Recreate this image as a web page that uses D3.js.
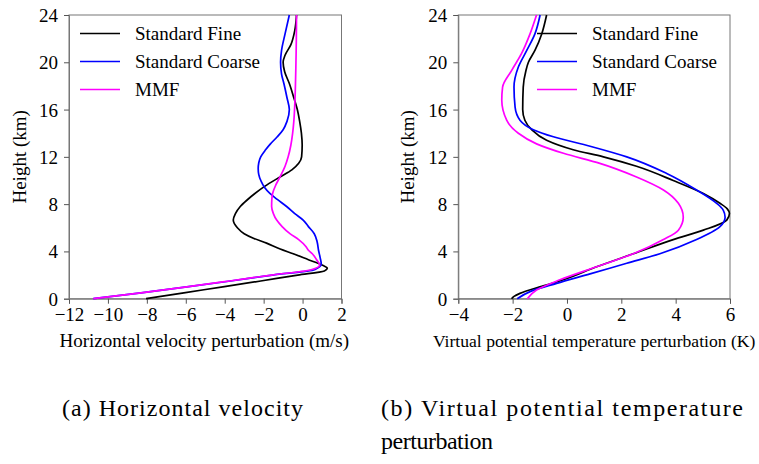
<!DOCTYPE html>
<html>
<head>
<meta charset="utf-8">
<script src="https://cdn.jsdelivr.net/npm/d3@7"></script>
<style>
  html, body { margin: 0; padding: 0; background: #fff; }
  svg { display: block; }
  text { font-family: "Liberation Serif", "Times New Roman", serif; fill: #000; }
</style>
</head>
<body>
<svg id="fig" width="759" height="464"></svg>
<script>
// Vertical profiles: [height (km), value]
const seriesNames = ["Standard Fine", "Standard Coarse", "MMF"];
const seriesColors = ["#000000", "#0000ff", "#ff00ff"];

// Horizontal velocity perturbation (m/s)
const uStandardFine = [
  [0, -8.04], [0.5, -6.1], [1.0, -4.1], [1.5, -2.15], [2.0, -0.25], [2.35, 1.12],
  [2.57, 1.27], [2.85, 1.0], [3.3, 0.3], [3.8, -0.48], [4.2, -1.15], [4.7, -1.85],
  [5.1, -2.5], [5.5, -3.0], [6.0, -3.35], [6.65, -3.56], [7.2, -3.45], [7.8, -3.2],
  [8.35, -2.85], [8.9, -2.45], [9.5, -1.95], [10.3, -1.16], [10.9, -0.55], [11.45, -0.2],
  [12.0, -0.05], [13, -0.02], [14, -0.06], [15, -0.15], [16, -0.27], [17, -0.45],
  [18.2, -0.68], [19.2, -0.92], [20, -1.0], [20.6, -0.9], [21.5, -0.6], [22.7, -0.4], [24, -0.31]
];
const uStandardCoarse = [
  [0, -10.75], [0.5, -8.3], [1.0, -5.95], [1.5, -3.7], [2.0, -1.55], [2.46, 0.62],
  [2.93, 0.96], [3.5, 0.9], [4.1, 0.82], [4.8, 0.75], [5.5, 0.6], [6.1, 0.3],
  [6.65, 0.03], [7.2, -0.4], [7.8, -0.82], [8.4, -1.3], [8.9, -1.68], [9.4, -1.95],
  [9.9, -2.12], [10.5, -2.25], [11, -2.28], [11.5, -2.25], [12, -2.15], [12.6, -1.9],
  [13.1, -1.65], [13.7, -1.3], [14.3, -1.0], [15, -0.8], [16, -0.68], [17, -0.8],
  [18.2, -0.96], [19, -1.08], [20, -1.13], [21, -1.08], [22.4, -0.9], [24, -0.68]
];
const uMMF = [
  [0, -10.75], [0.5, -8.3], [1.0, -5.95], [1.5, -3.75], [2.0, -1.6], [2.43, 0.4],
  [2.85, 0.88], [3.3, 0.72], [3.8, 0.5], [4.1, 0.3], [4.4, 0.18], [5.0, -0.2],
  [5.5, -0.65], [6.1, -1.05], [6.65, -1.33], [7.2, -1.5], [7.8, -1.59], [8.4, -1.58],
  [8.9, -1.54], [9.6, -1.38], [10.3, -1.16], [11.2, -0.9], [12, -0.74], [13, -0.6],
  [14, -0.51], [15, -0.45], [16.8, -0.39], [18.5, -0.36], [20, -0.34], [22, -0.32], [24, -0.31]
];

// Virtual potential temperature perturbation (K)
const thStandardFine = [
  [0, -2.04], [0.2, -1.95], [0.45, -1.73], [1.0, -1.0], [1.6, -0.13], [2.7, 1.09],
  [3.8, 2.44], [5.0, 3.91], [5.8, 5.02], [6.65, 5.88], [7.2, 5.98], [7.6, 5.9],
  [8.07, 5.63], [8.9, 5.02], [10.0, 3.91], [11.2, 2.56], [12.0, 1.34], [12.6, 0.23],
  [13.4, -0.75], [14.3, -1.3], [15.1, -1.55], [16, -1.63], [17.9, -1.61], [19.3, -1.51],
  [20, -1.42], [21, -1.18], [22.4, -0.93], [24, -0.75]
];
const thStandardCoarse = [
  [0, -1.83], [0.6, -1.36], [1.3, -0.38], [2.1, 0.85], [3.0, 2.2], [3.8, 3.42],
  [5.0, 4.77], [6.1, 5.63], [6.9, 5.82], [7.5, 5.75], [8.07, 5.51], [9.2, 4.77],
  [10.6, 3.67], [12, 2.2], [12.9, 0.85], [13.7, -0.5], [14.3, -1.24], [15.1, -1.73],
  [16.2, -1.91], [17.9, -1.95], [19.6, -1.79], [21, -1.48], [22.4, -1.18], [24, -0.99]
];
const thMMF = [
  [0, -1.46], [0.73, -1.12], [1.6, -0.26], [2.7, 1.09], [3.8, 2.44], [5.0, 3.55],
  [5.8, 4.1], [6.9, 4.28], [8.07, 4.1], [9.2, 3.55], [10.3, 2.56], [11.45, 1.21],
  [12.3, -0.13], [13.1, -1.12], [14, -1.79], [15.1, -2.22], [16.8, -2.40], [17.9, -2.37],
  [19.3, -2.04], [20.75, -1.67], [22.4, -1.36], [24, -1.12]
];

const heightTicks = [0, 4, 8, 12, 16, 20, 24];
const uTicks = [-12, -10, -8, -6, -4, -2, 0, 2];
const thTicks = [-4, -2, 0, 2, 4, 6];

const captionA = ["(a) Horizontal velocity"];
const captionB = ["(b) Virtual potential temperature", "perturbation"];

const svg = d3.select("#fig");
const fmt = d3.format("");
const serif = '"Liberation Serif", "Times New Roman", serif';

function panel(opts) {
  const { x0, x1, y0, y1, xDomain, xTicks, xLabel, xLabelSize, yLabelX, series, legend } = opts;
  const g = svg.append("g");
  const x = d3.scaleLinear().domain(xDomain).range([x0, x1]);
  const y = d3.scaleLinear().domain([0, 24]).range([y1, y0]);

  // Frame
  g.append("rect")
    .attr("x", x0).attr("y", y0)
    .attr("width", x1 - x0).attr("height", y1 - y0)
    .attr("fill", "none").attr("stroke", "#777").attr("stroke-width", 1);

  // Axes
  const xa = g.append("g").attr("transform", `translate(0,${y1})`)
    .call(d3.axisBottom(x).tickValues(xTicks).tickSize(5).tickPadding(4).tickFormat(fmt));
  const ya = g.append("g").attr("transform", `translate(${x0},0)`)
    .call(d3.axisLeft(y).tickValues(heightTicks).tickSize(5).tickPadding(6).tickFormat(fmt));
  [xa, ya].forEach(a => {
    a.attr("font-family", serif).attr("font-size", 19);
    a.select(".domain").attr("stroke", "#777");
    a.selectAll(".tick line").attr("stroke", "#555");
    a.selectAll(".tick text")
      .style("font-family", serif)
      .style("font-size", "19px").attr("fill", "#000");
  });
  ya.selectAll(".tick text").attr("dy", "0.34em");

  // Axis titles
  g.append("text")
    .attr("x", (x0 + x1) / 2 + (opts.xLabelShift || 0)).attr("y", y1 + 48)
    .attr("text-anchor", "middle")
    .style("font-size", xLabelSize + "px")
    .text(xLabel);
  g.append("text")
    .attr("transform", `translate(${yLabelX},${(y0 + y1) / 2}) rotate(-90)`)
    .attr("text-anchor", "middle")
    .style("font-size", "19px")
    .text("Height (km)");

  // Profiles
  const line = d3.line()
    .x(d => x(d[1]))
    .y(d => y(d[0]))
    .curve(d3.curveMonotoneY);
  series.forEach((s, i) => {
    g.append("path")
      .datum(s)
      .attr("fill", "none")
      .attr("stroke", seriesColors[i])
      .attr("stroke-width", 1.7)
      .attr("stroke-linejoin", "round")
      .attr("d", line);
  });

  // Legend
  const lg = g.append("g");
  seriesNames.forEach((name, i) => {
    const ly = legend.y + i * 28;
    lg.append("line")
      .attr("x1", legend.x).attr("x2", legend.x + 40)
      .attr("y1", ly).attr("y2", ly)
      .attr("stroke", seriesColors[i]).attr("stroke-width", 1.7);
    lg.append("text")
      .attr("x", legend.x + 55).attr("y", ly)
      .attr("dy", "0.34em")
      .style("font-size", "19px")
      .text(name);
  });
}

panel({
  x0: 69, x1: 341.5, y0: 15, y1: 298.7,
  xDomain: [-12, 2], xTicks: uTicks,
  xLabel: "Horizontal velocity perturbation (m/s)", xLabelSize: 19, xLabelShift: -1,
  yLabelX: 26,
  series: [uStandardFine, uStandardCoarse, uMMF],
  legend: { x: 80, y: 33.5 }
});

panel({
  x0: 458.3, x1: 730, y0: 15, y1: 298.7,
  xDomain: [-4, 6], xTicks: thTicks,
  xLabel: "Virtual potential temperature perturbation (K)", xLabelSize: 17.6, xLabelShift: 0,
  yLabelX: 414,
  series: [thStandardFine, thStandardCoarse, thMMF],
  legend: { x: 537, y: 33.5 }
});

// Sub-figure captions
function caption(lines, x, widths) {
  lines.forEach((t, i) => {
    svg.append("text")
      .attr("x", x).attr("y", 416 + i * 33)
      .style("font-size", "24px")
      .attr("textLength", widths[i])
      .attr("lengthAdjust", "spacing")
      .text(t);
  });
}
caption(captionA, 62, [241]);
caption(captionB, 381, [362, 112]);
</script>
</body>
</html>
